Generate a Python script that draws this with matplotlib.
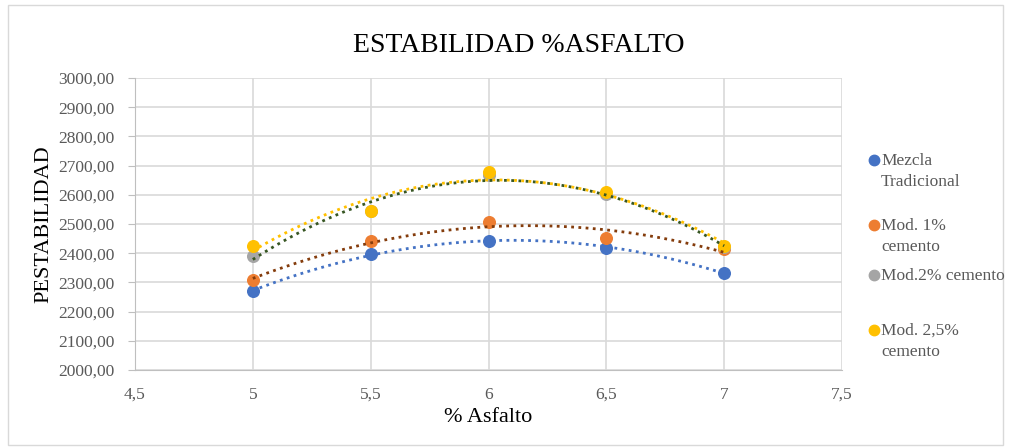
import numpy as np
import matplotlib.pyplot as plt
from matplotlib.patches import Rectangle
from matplotlib.lines import Line2D

asfalto = [5, 5.5, 6, 6.5, 7]
tradicional = [2270, 2397, 2443, 2417, 2333]
mod_1 = [2308, 2441, 2507, 2452, 2414]
mod_2 = [2390, 2546, 2668, 2603, 2420]
mod_25 = [2426, 2543, 2677, 2609, 2426]

series = [
    ("Mezcla\nTradicional", tradicional, "#4472c4", "#4472c4"),
    ("Mod. 1%\ncemento", mod_1, "#ed7d31", "#843c0c"),
    ("Mod.2% cemento", mod_2, "#a5a5a5", "#375623"),
    ("Mod. 2,5%\ncemento", mod_25, "#ffc000", "#ffc000"),
]
legend_y = [160, 225, 275, 330]

plt.rcParams['font.family'] = ['Liberation Serif', 'DejaVu Serif']

W, H = 1011, 448
fig = plt.figure(figsize=(W / 100, H / 100), dpi=100)
ax = fig.add_axes([135 / W, 1 - 370 / H, (842 - 135) / W, (370 - 78) / H])

x = np.array(asfalto)
xs = np.linspace(5, 7, 100)
for label, vals, col, tcol in series:
    ax.scatter(x, vals, s=70, color=col, zorder=3)
for label, vals, col, tcol in series:
    p = np.polyfit(x, vals, 2)
    ax.plot(xs, np.polyval(p, xs), color=tcol, lw=2, ls=(0, (1, 1.6)), zorder=4)

ax.set_xlim(4.5, 7.5)
ax.set_ylim(2000, 3000)
ax.set_xticks(np.arange(4.5, 7.51, 0.5))
ax.set_yticks(np.arange(2000, 3001, 100))
ax.set_xticklabels([f"{v:g}".replace(".", ",") for v in np.arange(4.5, 7.51, 0.5)])
ax.set_yticklabels([f"{v:.2f}".replace(".", ",") for v in np.arange(2000, 3001, 100)])
ax.tick_params(colors="#595959", labelsize=12.5, length=0)
ax.tick_params(axis="x", pad=12)
ax.tick_params(axis="y", length=5, direction="out", color="#bfbfbf", pad=10)
ax.grid(True, color="#d9d9d9", lw=1.2)
ax.set_axisbelow(True)
for s in ["top", "right"]:
    ax.spines[s].set_visible(False)
for s in ["left", "bottom"]:
    ax.spines[s].set_color("#bfbfbf")

ax.set_xlabel("% Asfalto", fontsize=16, labelpad=4)
ax.set_ylabel("PESTABILIDAD", fontsize=16, labelpad=3)
fig.text(0.513, 1 - 45 / H, "ESTABILIDAD %ASFALTO", ha="center", va="center", fontsize=20)

# legend drawn by hand: marker beside the first line of each label
for (label, vals, col, tcol), ly in zip(series, legend_y):
    fig.add_artist(Line2D([874 / W], [1 - ly / H], marker="o", ms=7.5, color=col,
                          transform=fig.transFigure))
    fig.text(881 / W, 1 - (ly - 7) / H, label, ha="left", va="top", fontsize=12.5,
             color="#595959", linespacing=1.45)

fig.patches.append(Rectangle((8 / W, 3 / H), 995 / W, 440 / H, transform=fig.transFigure,
                             fill=False, edgecolor="#d9d9d9", lw=1))

fig.savefig("out.png", dpi=100)
